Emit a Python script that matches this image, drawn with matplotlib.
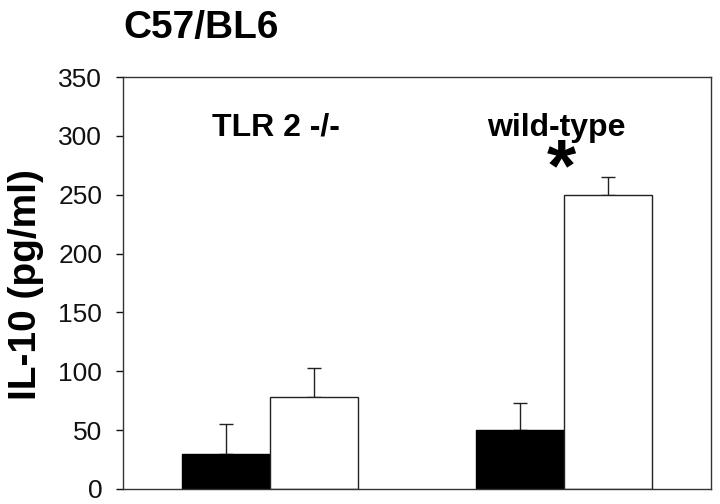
import numpy as np
import matplotlib
matplotlib.use('Agg')
from matplotlib import pyplot as plt

plt.rcParams['font.family'] = ['Liberation Sans', 'DejaVu Sans']

# 数据
groups = ['TLR 2 -/-', 'wild-type']
black_vals = [30, 50]
black_err = [25, 23]
white_vals = [78, 250]
white_err = [25, 15]
yticks = [0, 50, 100, 150, 200, 250, 300, 350]

x = np.arange(len(groups))
w = 0.3

fig = plt.figure(figsize=(7.2, 5.04), dpi=100)
ax = fig.add_axes([0.1708, 0.0298, 0.8167, 0.8174])

ax.bar(x - w / 2, black_vals, width=w, color='black', edgecolor='black', linewidth=1, zorder=2)
ax.bar(x + w / 2, white_vals, width=w, color='white', edgecolor='#222222', linewidth=1, zorder=2)
ax.errorbar(x - w / 2, black_vals, yerr=[np.zeros(2), black_err], fmt='none',
            ecolor='#222222', elinewidth=1, capsize=4.7, capthick=1, zorder=1)
ax.errorbar(x + w / 2, white_vals, yerr=[np.zeros(2), white_err], fmt='none',
            ecolor='#222222', elinewidth=1, capsize=4.7, capthick=1, zorder=1)

ax.set_xlim(-0.5, 1.5)
ax.set_ylim(0, 350)
ax.set_yticks(yticks)
ax.set_xticks([])
ax.tick_params(axis='y', direction='out', length=5, width=1, pad=10, labelsize=19, colors='#111111')
for s in ax.spines.values():
    s.set_linewidth(1)
    s.set_color('#333333')

# y轴标题
fig.text(0.036, 0.4345, 'IL-10 (pg/ml)', rotation=90, ha='center', va='center',
         fontsize=28, fontweight='bold')

# 组标签
ax.text(x[0] + 0.02, 300, groups[0], ha='center', va='baseline', fontsize=23, fontweight='bold')
ax.text(x[1] - 0.025, 300, groups[1], ha='center', va='baseline', fontsize=23, fontweight='bold')
ax.text(x[1] - 0.01, 270, '*', ha='center', va='center', fontsize=54, fontweight='bold')

fig.text(0.171, 0.945, 'C57/BL6', ha='left', va='center', fontsize=28, fontweight='bold')

plt.savefig('out.png', dpi=100)
